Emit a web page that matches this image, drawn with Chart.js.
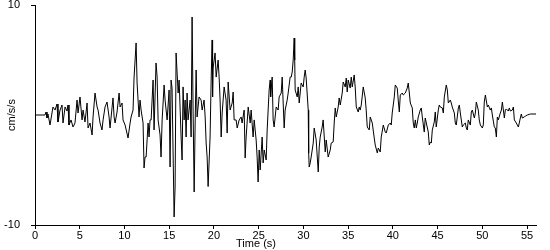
<!DOCTYPE html>
<html>
<head>
<meta charset="utf-8">
<script src="https://cdn.jsdelivr.net/npm/chart.js@4/dist/chart.umd.min.js"></script>
<style>
  html, body { margin: 0; padding: 0; background: #fff; }
  #wrap { width: 550px; height: 250px; position: relative; }
</style>
</head>
<body>
<div id="wrap"><canvas id="myChart"></canvas></div>
<script>
// Time in seconds
const times = [
  0, 1.12, 1.23, 1.34, 1.45, 1.68, 2.01, 2.24, 2.46, 2.57, 2.80, 3.02, 3.13, 3.36, 3.58, 3.69, 3.80, 4.03, 4.25, 4.47,
  4.70, 4.81, 5.03, 5.26, 5.37, 5.59, 5.82, 5.93, 6.15, 6.38, 6.49, 6.71, 6.94, 7.05, 7.27, 7.49, 7.61, 7.83, 8.05,
  8.28, 8.39, 8.72, 8.84, 8.95, 9.17, 9.40, 9.51, 9.73, 9.84, 10.07, 10.40, 10.63, 10.74, 10.96, 11.07, 11.30, 11.41,
  11.63, 11.74, 11.86, 12.08, 12.19, 12.30, 12.42, 12.64, 12.75, 12.86, 12.98, 13.09, 13.20, 13.31, 13.53, 13.65,
  13.76, 13.98, 14.09, 14.21, 14.43, 14.54, 14.77, 14.99, 15.10, 15.21, 15.32, 15.55, 15.66, 15.77, 16.00, 16.11,
  16.33, 16.44, 16.55, 16.67, 16.78, 16.89, 17.00, 17.11, 17.34, 17.45, 17.56, 17.67, 17.79, 17.90, 18.01, 18.12,
  18.34, 18.57, 18.68, 18.90, 19.02, 19.13, 19.24, 19.35, 19.57, 19.69, 19.80, 19.85, 19.91, 20.13, 20.25, 20.47,
  20.58, 20.69, 20.81, 20.92, 21.14, 21.36, 21.48, 21.59, 21.81, 22.04, 22.15, 22.26, 22.48, 22.60, 22.82, 23.04,
  23.15, 23.38, 23.49, 23.60, 23.83, 24.05, 24.16,
  24.38, 24.50, 24.72, 24.83, 24.94, 25.06, 25.17, 25.39, 25.50, 25.62, 25.84, 25.95, 26.06, 26.17, 26.29, 26.34,
  26.51, 26.62, 26.73, 26.96, 27.18, 27.29, 27.52, 27.63, 27.74, 27.85, 27.96, 28.19, 28.30, 28.52, 28.64, 28.75,
  28.86, 28.97, 29.03, 29.08, 29.31, 29.42, 29.53, 29.64, 29.75, 29.98, 30.09, 30.20, 30.31, 30.54, 30.59, 30.65,
  30.76, 30.87, 31.10, 31.21, 31.43, 31.66, 31.77, 31.88, 32.10, 32.21,
  32.44, 32.55, 32.77, 33.00, 33.11, 33.33, 33.45, 33.56, 33.67, 33.89, 34.00, 34.12, 34.34, 34.45, 34.68, 34.79,
  34.90, 35.01, 35.23, 35.35, 35.46, 35.68, 35.79, 35.91, 36.13, 36.24, 36.35, 36.47, 36.69, 36.91, 37.02, 37.14,
  37.36, 37.47, 37.70, 37.92, 38.03, 38.26, 38.37, 38.59, 38.70, 38.93, 39.15, 39.26, 39.49, 39.71, 39.82, 39.93,
  40.16, 40.27,
  40.49, 40.60, 40.72, 40.83, 41.05, 41.16, 41.39, 41.61, 41.72, 41.83, 41.95, 42.17, 42.28, 42.39, 42.51, 42.62,
  42.73, 42.84, 43.06, 43.18, 43.29, 43.51, 43.62, 43.74, 43.96, 44.07, 44.18, 44.30, 44.41, 44.63, 44.74, 44.85,
  45.08, 45.19, 45.30, 45.53, 45.64, 45.75, 45.97, 46.09, 46.20, 46.42, 46.53, 46.64, 46.87, 46.98, 47.09, 47.32,
  47.43, 47.54, 47.76, 47.87, 48.10, 48.21,
  48.32, 48.43, 48.66, 48.77, 48.88, 49.11, 49.22, 49.33, 49.55, 49.66, 49.78, 50.00, 50.11, 50.22, 50.34, 50.56,
  50.67, 50.89, 51.01, 51.12, 51.34, 51.45, 51.57, 51.68, 51.79, 52.01, 52.13, 52.24, 52.46, 52.57, 52.68, 52.91,
  53.02, 53.13, 53.36, 53.47, 53.58, 53.80, 53.91, 54.03, 54.25, 54.36, 54.47, 54.70, 54.81, 55.03, 55.37, 56.04
];

// Acceleration in cm/s/s at the times above
const accel = [
  0, 0, 0.27, -0.27, 0.09, -0.91, 0.73, 0.45, 1.0, -0.64, 0.45, 0.91, -0.73, 0.73, 0.36, 0.91, -0.91, -0.45, -1.09, -0.73,
  1.36, 0.18, 1.64, -0.45, 0.45, -0.64, 1.09, -1.18, -0.73, -1.82, -0.18, 2.0, 0.73, 0.45, -0.73, -1.36, -0.45, 0.73, 1.18,
  -0.18, -1.18, 1.55, -0.18, -0.73, 0.27, 2.0, 0.73, 1.09, -0.45, -0.91, -2.09, -0.73, -0.18, 0.45, 3.36, 6.55, 2.91,
  -0.18, 1.36, 0.45, -0.73, -4.82, -3.82, -3.82, -0.73, -2.0, -0.45, -0.45, 1.36, 3.18, -1.36, 4.73, 3.45,
  -0.45, -1.82, -3.82, -0.45, 2.73, 1.36, -0.45, 2.27, -4.73, 3.18, 2.45, -9.27, -6.55, 5.64, 2.0, 3.18,
  -2.0, -4.09, 2.55, -0.45, 1.36, -2.0, 2.0, -0.45, 1.36, -2.0, 8.91, 0.45, -7.0, -0.73, 4.09, -0.18,
  1.64, 1.36, 0.45, 1.36, -0.18, -2.55, -3.82, -6.5, -2.0, 3.18, 6.82, 1.64, 4.27, 5.64, 3.45, 5.0,
  3.45, 1.36, -2.0, 0.18, 2.55, 1.36, -1.64, 3.0, 0.45, 1.09, 2.09, -0.45, -0.45, -1.18, -0.45, -0.18,
  -0.73, 0.45, -3.91, -2.0, 0.73, -0.73, 0.45,
  -2.0, -0.45, -2.27, -3.82, -6.09, -3.18, -5.0, -2.0, -4.36, -3.18, -4.09, -1.36, 0.45, 2.27, 3.18, 1.64,
  3.45, -0.45, -1.09, 0.73, 0.45, 1.64, 2.0, 3.45, 1.09, -1.18, 0.45, 1.36, 2.0, 3.45, 3.45, 3.91,
  5.0, 7.0, 5.0, 2.27, 1.64, 2.55, 1.09, 2.0, 2.91, 2.55, 3.45, 4.09, 3.36, 0.45, -3.45, -4.73,
  -4.36, -3.82, -2.55, -1.18, -2.27, -5.18, -2.91, -2.0, -1.09, -0.45,
  -3.36, -2.27, -3.82, -3.18, -2.55, -2.45, -0.64, 0.64, -0.18, 0.73, 1.55, 0.91, 2.0, 3.0, 2.55, 3.36,
  2.09, 3.18, 2.45, 3.45, 2.55, 3.64, 2.55, 0.73, 0.27, 0.73, 0.45, 0.91, 2.55, 1.55, 0.45, -1.09,
  -1.36, -0.18, -0.73, -2.09, -2.73, -3.45, -3.0, -3.36, -2.0, -0.91, -1.55, -1.64, -0.91, -0.73, -0.91, 0.18,
  1.64, 2.73,
  2.45, 1.36, 0.27, 1.82, 2.0, 1.82, 2.0, 2.45, 2.91, 2.09, 1.09, 0.64, -0.73, -1.18, -0.45, -1.18,
  -0.73, -0.18, 0.45, 0.64, -0.18, -1.55, -0.27, -0.73, -1.55, -2.73, -2.45, -2.55, -1.36, -0.64, 0.27, -1.09,
  0.45, 0.91, 0.73, 0.64, 0.18, 1.64, 2.73, 2.27, 1.09, 1.36, 1.09, 0.73, 0.18, -0.73, -0.91, 0.64,
  0.91, 0.18, -1.09, -0.91, -0.73, -1.18,
  -1.36, -0.45, -0.91, 0.27, 0.45, -0.27, 0.18, 1.18, 0.45, -0.45, -0.91, -1.18, -0.91, 1.18, 1.82, 0.73,
  0.91, 0.45, 0.64, 0, -1.09, -1.18, -2.0, -0.18, -0.45, 0.18, 0.45, 1.18, -0.27, 0.45, 0.55, 0.36,
  0.64, 0.36, 0.45, 0.73, -0.45, -0.73, -0.91, -1.09, -0.27, 0.09, -0.27, -0.18, -0.09, 0, 0.09, 0.09
];

const xTicks = [0, 5, 10, 15, 20, 25, 30, 35, 40, 45, 50, 55];
const yTicks = [-10, 10];

const fontName = '"Liberation Sans", Arial, sans-serif';

// x title sits left of centre in the original, so draw it by hand
const xTitlePlugin = {
    id: 'xTitle',
    afterDraw(chart) {
        const ctx = chart.ctx;
        ctx.save();
        ctx.font = '11px ' + fontName;
        ctx.fillStyle = '#000';
        ctx.textAlign = 'center';
        ctx.textBaseline = 'middle';
        ctx.fillText('Time (s)', 256, 244);
        ctx.restore();
    }
};

const ctx = document.getElementById('myChart').getContext('2d');
const chart = new Chart(ctx, {
    type: 'line',
    data: {
        datasets: [{
            data: times.map((t, i) => ({ x: t, y: accel[i] })),
            borderColor: '#000',
            borderWidth: 1,
            borderJoinStyle: 'round',
            pointRadius: 0,
            tension: 0,
            fill: false
        }]
    },
    options: {
        responsive: true,
        maintainAspectRatio: false,
        animation: false,
        events: [],
        layout: { padding: { top: 5, right: 14, left: 0, bottom: 0 } },
        plugins: {
            legend: { display: false },
            tooltip: { enabled: false }
        },
        scales: {
            x: {
                type: 'linear',
                min: 0,
                max: 56,
                afterBuildTicks: (scale) => { scale.ticks = xTicks.map(v => ({ value: v })); },
                afterFit: (scale) => { scale.height = 25; scale.paddingLeft = 0; scale.paddingRight = 0; },
                grid: { display: true, drawOnChartArea: false, drawTicks: true, tickLength: 4, color: '#000' },
                border: { display: true, color: '#000', width: 1 },
                ticks: { color: '#000', padding: 0, maxRotation: 0, autoSkip: false, font: { family: fontName, size: 11 } }
            },
            y: {
                min: -10,
                max: 10,
                afterBuildTicks: (scale) => { scale.ticks = yTicks.map(v => ({ value: v })); },
                afterFit: (scale) => { scale.width = 35; scale.paddingTop = 0; scale.paddingBottom = 0; },
                grid: { display: true, drawOnChartArea: false, drawTicks: true, tickLength: 4, color: '#000' },
                border: { display: true, color: '#000', width: 1 },
                ticks: { color: '#000', padding: 11, font: { family: fontName, size: 11 } },
                title: {
                    display: true,
                    text: 'cm/s/s',
                    color: '#000',
                    padding: { top: 5, bottom: 0 },
                    font: { family: fontName, size: 11 }
                }
            }
        }
    },
    plugins: [xTitlePlugin]
});
</script>
</body>
</html>
